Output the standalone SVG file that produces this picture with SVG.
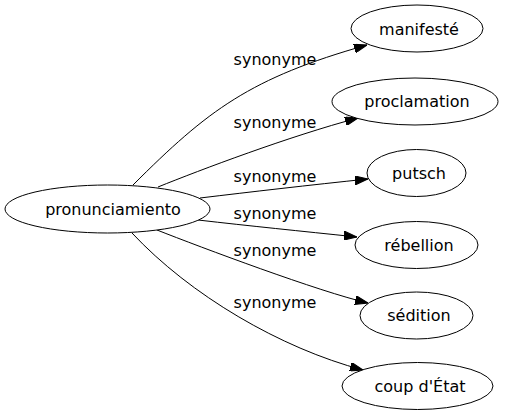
<svg xmlns="http://www.w3.org/2000/svg" width="505" height="419" viewBox="0 0 505 419">
<style>
.node ellipse{fill:#ffffff;stroke:#000000;stroke-width:1}
text{font-family:"DejaVu Sans",sans-serif;font-size:16px;fill:#000000;text-anchor:middle}
.edge path{fill:none;stroke:#000000;stroke-width:1;marker-end:url(#arr)}
</style>
<defs>
<marker id="arr" viewBox="0 0 13 9" refX="13" refY="4.5" markerWidth="13" markerHeight="9" markerUnits="userSpaceOnUse" orient="auto">
<path d="M0,0 L13,4.5 L0,9 z" fill="#000000" stroke="#000000" stroke-width="1"/>
</marker>
</defs>
<rect width="505" height="419" fill="#ffffff"/>
<g id="edges" class="edge">
<path d="M133,185 C208,110 250,78 367,45"/>
<path d="M158,187 C200,170 290,136 358,118"/>
<path d="M200,198 C250,192 310,185 368,179"/>
<path d="M198,220 C250,226 300,231 357,237"/>
<path d="M157,230 C200,247 320,292 368,303"/>
<path d="M132,233 C190,295 280,348 363,370"/>
<text x="275" y="64.5">synonyme</text>
<text x="275" y="128">synonyme</text>
<text x="275" y="181.5">synonyme</text>
<text x="275" y="218.5">synonyme</text>
<text x="275" y="255.5">synonyme</text>
<text x="275" y="308">synonyme</text>
</g>
<g id="pronunciamiento" class="node">
<ellipse cx="107.5" cy="209" rx="102.5" ry="24"/>
<text x="113" y="214.5">pronunciamiento</text>
</g>
<g id="manifeste" class="node">
<ellipse cx="417" cy="28.5" rx="66" ry="23.5"/>
<text x="419" y="34.5">manifesté</text>
</g>
<g id="proclamation" class="node">
<ellipse cx="415" cy="101.5" rx="83" ry="23.5"/>
<text x="417" y="107">proclamation</text>
</g>
<g id="putsch" class="node">
<ellipse cx="416.5" cy="173" rx="49.5" ry="23.5"/>
<text x="419" y="178.5">putsch</text>
</g>
<g id="rebellion" class="node">
<ellipse cx="416.5" cy="245" rx="61.5" ry="23.5"/>
<text x="419" y="250.5">rébellion</text>
</g>
<g id="sedition" class="node">
<ellipse cx="416.5" cy="315.5" rx="56.5" ry="23.5"/>
<text x="419" y="321">sédition</text>
</g>
<g id="coup" class="node">
<ellipse cx="417.5" cy="386" rx="75.5" ry="23.5"/>
<text x="420" y="391.5">coup d'État</text>
</g>
</svg>
